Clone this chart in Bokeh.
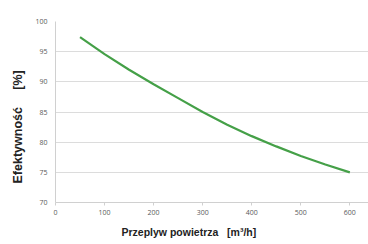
from bokeh.plotting import figure
from bokeh.models import Range1d, Title, FixedTicker
from bokeh.embed import file_html
from bokeh.resources import INLINE

flow = [50, 100, 150, 200, 250, 300, 350, 400, 450, 500, 550, 600]
efficiency = [97.4, 94.6, 92.0, 89.6, 87.3, 85.0, 82.9, 81.0, 79.3, 77.7, 76.3, 75.0]
x_ticks = [0, 100, 200, 300, 400, 500, 600]
y_ticks = [70, 75, 80, 85, 90, 95, 100]
x_title = "Przeplyw powietrza\u00a0\u00a0\u00a0[m³/h]"
y_title = "Efektywność\u00a0\u00a0\u00a0\u00a0\u00a0[%]"

p = figure(width=368, height=244, output_backend="svg", toolbar_location=None,
           x_range=Range1d(0, 638), y_range=Range1d(70, 100))
p.min_border_left = 54
p.min_border_right = 0
p.min_border_top = 21
p.min_border_bottom = 40
p.outline_line_color = None
p.background_fill_color = "white"
p.border_fill_color = "white"

p.line(flow, efficiency, line_color="#45a048", line_width=2.2)

p.xgrid.grid_line_color = None
p.ygrid.grid_line_color = "#dcdcdc"
p.ygrid.grid_line_width = 1.2
p.xaxis.ticker = FixedTicker(ticks=x_ticks)
p.yaxis.ticker = FixedTicker(ticks=y_ticks)
for ax in (p.xaxis, p.yaxis):
    ax.major_label_text_font = "Open Sans"
    ax.major_label_text_font_size = "7px"
    ax.major_label_text_color = "#595959"
    ax.axis_line_color = "#d0d0d0"
    ax.major_tick_line_color = "#d0d0d0"
    ax.minor_tick_line_color = None
    ax.major_tick_in = 0
p.xaxis.major_tick_out = 3
p.yaxis.major_tick_out = 0
p.yaxis.major_label_standoff = 8
p.xaxis.major_label_standoff = 4

p.add_layout(Title(text=x_title, align="left", offset=66, standoff=13,
                   text_line_height=0.8,
                   text_font="Liberation Sans", text_font_style="bold",
                   text_font_size="10.5px", text_color="#222222"), "below")
p.add_layout(Title(text=y_title, align="left", offset=19, standoff=16,
                   text_font="Liberation Sans", text_font_style="bold",
                   text_font_size="12.5px", text_color="#222222"), "left")

open("out.html", "w").write(file_html(p, INLINE))
